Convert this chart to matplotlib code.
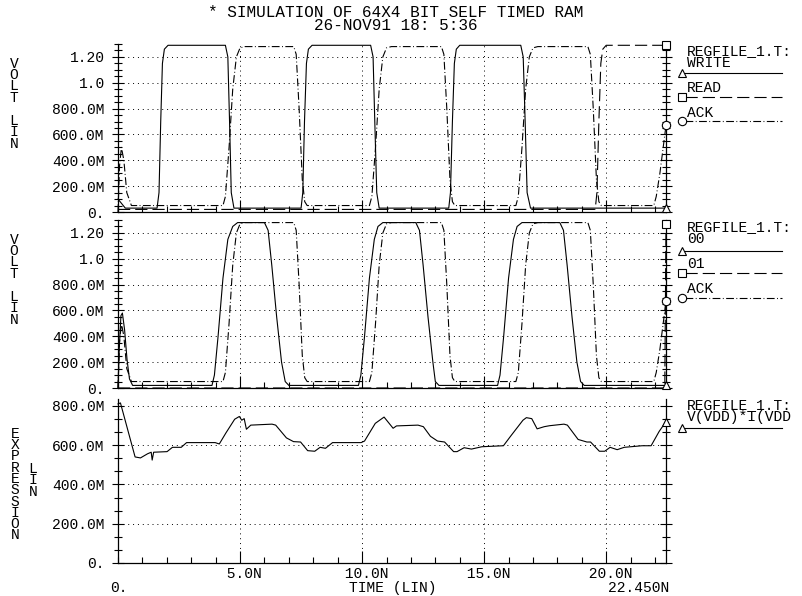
import matplotlib
matplotlib.use("Agg")
import matplotlib.pyplot as plt
from matplotlib.lines import Line2D
from matplotlib.ticker import MultipleLocator, AutoMinorLocator

plt.rcParams['font.family'] = ['Liberation Mono', 'DejaVu Sans Mono']

W, H = 803, 596

# ---- panel 1 : WRITE / READ / ACK (ns, V)
write_t = [0, 0.3, 1.6, 1.68, 1.75, 1.82, 1.9, 2.05, 4.4, 4.5, 4.57, 4.64, 4.75,
           7.5, 7.57, 7.64, 7.72, 7.8, 7.95, 10.35, 10.45, 10.52, 10.6, 10.7,
           13.55, 13.62, 13.7, 13.78, 13.86, 14.0, 16.5, 16.6, 16.68, 16.76, 16.9, 22.45]
write_v = [0.10, 0.03, 0.03, 0.15, 0.7, 1.15, 1.26, 1.29, 1.29, 1.2, 0.7, 0.15, 0.03,
           0.03, 0.15, 0.7, 1.15, 1.26, 1.29, 1.29, 1.2, 0.7, 0.15, 0.03,
           0.03, 0.15, 0.7, 1.15, 1.26, 1.29, 1.29, 1.2, 0.7, 0.15, 0.03, 0.03]
read_t = [0, 19.55, 19.62, 19.7, 19.78, 19.86, 20.0, 22.45]
read_v = [0.02, 0.02, 0.15, 0.7, 1.15, 1.26, 1.29, 1.29]
ack_t = [0, 0.06, 0.14, 0.24, 0.36, 0.55, 4.3, 4.4, 4.55, 4.7, 4.85, 5.0, 5.2,
         7.2, 7.3, 7.42, 7.55, 7.65, 7.75, 10.3, 10.4, 10.55, 10.7, 10.85, 11.0, 11.2,
         13.25, 13.35, 13.47, 13.6, 13.7, 13.8, 16.3, 16.4, 16.55, 16.7, 16.85, 17.0, 17.2,
         19.25, 19.35, 19.47, 19.6, 19.7, 19.8, 21.95, 22.05, 22.2, 22.45]
ack_v = [0.0, 0.35, 0.5, 0.4, 0.15, 0.05, 0.05, 0.12, 0.5, 0.95, 1.2, 1.27, 1.28,
         1.28, 1.22, 0.8, 0.25, 0.08, 0.05, 0.05, 0.12, 0.5, 0.95, 1.2, 1.27, 1.28,
         1.28, 1.22, 0.8, 0.25, 0.08, 0.05, 0.05, 0.12, 0.5, 0.95, 1.2, 1.27, 1.28,
         1.28, 1.22, 0.8, 0.25, 0.08, 0.05, 0.05, 0.12, 0.3, 0.67]

# ---- panel 2 : 00 / 01 / ACK
d00_t = [0, 0.05, 0.12, 0.18, 0.27, 0.37, 0.47, 0.6, 3.85, 3.95, 4.1, 4.3, 4.5, 4.7, 4.9,
         6.0, 6.15, 6.3, 6.5, 6.7, 6.85, 7.0, 9.85, 9.95, 10.1, 10.3, 10.5, 10.65, 10.85,
         12.2, 12.35, 12.5, 12.7, 12.9, 13.0, 13.15, 15.55, 15.65, 15.8, 16.0, 16.2, 16.35, 16.55,
         18.1, 18.25, 18.4, 18.6, 18.8, 18.95, 19.1, 22.45]
d00_v = [0.0, 0.3, 0.56, 0.58, 0.45, 0.22, 0.07, 0.02, 0.02, 0.1, 0.4, 0.85, 1.15, 1.25, 1.28,
         1.28, 1.22, 0.95, 0.55, 0.2, 0.05, 0.02, 0.02, 0.1, 0.4, 0.85, 1.15, 1.25, 1.28,
         1.28, 1.22, 0.95, 0.55, 0.2, 0.05, 0.02, 0.02, 0.1, 0.4, 0.85, 1.15, 1.25, 1.28,
         1.28, 1.22, 0.95, 0.55, 0.2, 0.05, 0.02, 0.02]
d01_t = [0, 22.4, 22.45]
d01_v = [0.0, 0.0, 1.27]

# ---- panel 3 : V(VDD)*I(VDD)
pwr_t = [0, 0.1, 0.70, 0.92, 1.21, 1.36, 1.40, 1.46, 2.01, 2.23, 2.59, 2.81, 3.98, 4.15,
         4.42, 4.78, 4.97, 5.07, 5.17, 5.26, 5.44, 6.31, 6.46, 6.90, 7.19, 7.48, 7.77,
         8.06, 8.28, 8.50, 8.79, 9.96, 10.10, 10.54, 10.90, 11.27, 11.41, 12.29, 12.51,
         12.80, 13.09, 13.38, 13.75, 13.89, 14.18, 14.48, 14.91, 15.79, 16.08, 16.59,
         16.73, 16.95, 17.17, 17.46, 17.68, 18.27, 18.41, 18.85, 19.21, 19.36, 19.72,
         19.94, 20.16, 20.45, 20.74, 21.47, 21.84, 22.17, 22.45]
pwr_v = [0.81, 0.815, 0.540, 0.535, 0.556, 0.564, 0.524, 0.564, 0.567, 0.589, 0.589, 0.613,
         0.613, 0.606, 0.662, 0.732, 0.746, 0.727, 0.735, 0.681, 0.702, 0.707, 0.702, 0.637,
         0.618, 0.616, 0.572, 0.569, 0.589, 0.584, 0.613, 0.613, 0.621, 0.711, 0.743, 0.686,
         0.698, 0.702, 0.694, 0.645, 0.621, 0.616, 0.567, 0.567, 0.587, 0.580, 0.592, 0.597,
         0.645, 0.727, 0.740, 0.735, 0.683, 0.694, 0.699, 0.707, 0.702, 0.629, 0.616, 0.616,
         0.569, 0.569, 0.589, 0.577, 0.589, 0.597, 0.597, 0.670, 0.72]

volt_ticks = [0, 0.2, 0.4, 0.6, 0.8, 1.0, 1.2]
volt_labels = ['0.', '200.0M', '400.0M', '600.0M', '800.0M', '1.0', '1.20']
pwr_ticks = [0, 0.2, 0.4, 0.6, 0.8]
pwr_labels = ['0.', '200.0M', '400.0M', '600.0M', '800.0M']
time_ticks = [5, 10, 15, 20]
time_labels = [' 5.0N', ' 10.0N', ' 15.0N', ' 20.0N']

SOLID = '-'
DASHED = (0, (11, 4.5))
DASHDOT = (0, (7, 2.2, 0.8, 2.2))
FS = 10.5


def px(x, y):
    return x / W, 1 - y / H


def axes_rect(top, bottom, left=118, right=666):
    return [left / W, 1 - bottom / H, (right - left) / W, (bottom - top) / H]


def style_axes(ax, ymax, ticks, labels, nminor):
    ax.set_xlim(0, 22.45)
    ax.set_ylim(0, ymax)
    ax.spines['top'].set_visible(False)
    for s in ('left', 'right', 'bottom'):
        ax.spines[s].set_linewidth(0.9)
    ax.set_yticks(ticks)
    ax.set_yticklabels(labels, fontsize=FS)
    ax.yaxis.set_minor_locator(AutoMinorLocator(nminor))
    ax.set_xticks(time_ticks)
    ax.xaxis.set_minor_locator(MultipleLocator(1))
    ax.tick_params(axis='y', which='both', direction='inout', left=True, right=True,
                   width=0.8, pad=5)
    ax.tick_params(axis='y', which='major', length=9)
    ax.tick_params(axis='y', which='minor', length=6)
    ax.tick_params(axis='x', which='both', direction='in', width=0.8)
    ax.tick_params(axis='x', which='major', length=9)
    ax.tick_params(axis='x', which='minor', length=4)
    ax.grid(True, which='major', color='black', linewidth=0.7, linestyle=(0, (1, 4)))


def label(x, y, s, ha='left', size=FS, spacing=1.2):
    fig.text(*px(x, y), s, fontsize=size, ha=ha, va='baseline', linespacing=spacing)


def legend_line(y_line, marker, ls):
    x0, y0 = px(685, y_line)
    x1, _ = px(782, y_line)
    fig.add_artist(Line2D([x0, x1], [y0, y0], color='black', lw=0.8, linestyle=ls))
    mx, my = px(682, y_line)
    fig.add_artist(Line2D([mx], [my], marker=marker, markersize=6, mfc='white',
                          mec='black', mew=0.8, linestyle='none'))


def legend_entry(y_text, y_line, text, marker, ls):
    label(687, y_text, text)
    legend_line(y_line, marker, ls)


def stacked(x, y_top, word, spacing=0.75):
    fig.text(*px(x, y_top), '\n'.join(word), fontsize=FS, ha='center', va='top',
             linespacing=spacing, multialignment='center')


fig = plt.figure(figsize=(W / 100, H / 100), dpi=100)

ax1 = fig.add_axes(axes_rect(44, 212))
ax2 = fig.add_axes(axes_rect(220, 388))
ax3 = fig.add_axes(axes_rect(399, 563))

style_axes(ax1, 1.30, volt_ticks, volt_labels, 4)
style_axes(ax2, 1.30, volt_ticks, volt_labels, 4)
style_axes(ax3, 0.835, pwr_ticks, pwr_labels, 3)
ax1.set_xticklabels([])
ax2.set_xticklabels([])
ax3.set_xticklabels(time_labels, fontsize=FS)
ax3.tick_params(axis='x', pad=3)

panels = [
    (ax1, [(write_t, write_v, SOLID, '^'), (read_t, read_v, DASHED, 's'),
           (ack_t, ack_v, DASHDOT, 'o')]),
    (ax2, [(d00_t, d00_v, SOLID, '^'), (d01_t, d01_v, DASHED, 's'),
           (ack_t, ack_v, DASHDOT, 'o')]),
    (ax3, [(pwr_t, pwr_v, SOLID, '^')]),
]
for ax, traces in panels:
    for t, v, ls, mk in traces:
        ax.plot(t, v, color='black', lw=0.8, linestyle=ls, clip_on=False)
        ax.plot([t[-1]], [v[-1]], marker=mk, markersize=6, mfc='white', mec='black',
                mew=0.8, linestyle='none', clip_on=False, zorder=5)

# title
label(396, 30, '* SIMULATION OF 64X4 BIT SELF TIMED RAM\n26-NOV91 18: 5:36',
      ha='center', size=11.5, spacing=0.8)

# left axis captions
stacked(14, 57, 'VOLT')
stacked(14, 114, 'LIN')
stacked(14, 233, 'VOLT')
stacked(14, 290, 'LIN')
stacked(15, 427, 'EXPRESSION')
stacked(33, 462, 'LIN')

# bottom captions
label(119, 592, '0.', ha='center')
label(393, 592, 'TIME (LIN)', ha='center')
label(669, 592, '22.450N', ha='right')

# right legends (header + first signal name share one text block)
label(687, 67, 'REGFILE_1.T:\nWRITE', spacing=0.84)
legend_line(73, '^', SOLID)
legend_entry(92, 97, 'READ', 's', DASHED)
legend_entry(117, 121, 'ACK', 'o', DASHDOT)

label(687, 243, 'REGFILE_1.T:\n00', spacing=0.84)
legend_line(251, '^', SOLID)
legend_entry(268, 273, '01', 's', DASHED)
legend_entry(293, 298, 'ACK', 'o', DASHDOT)

label(687, 421, 'REGFILE_1.T:\nV(VDD)*I(VDD', spacing=0.84)
legend_line(428, '^', SOLID)

fig.savefig('out.png', dpi=100)
